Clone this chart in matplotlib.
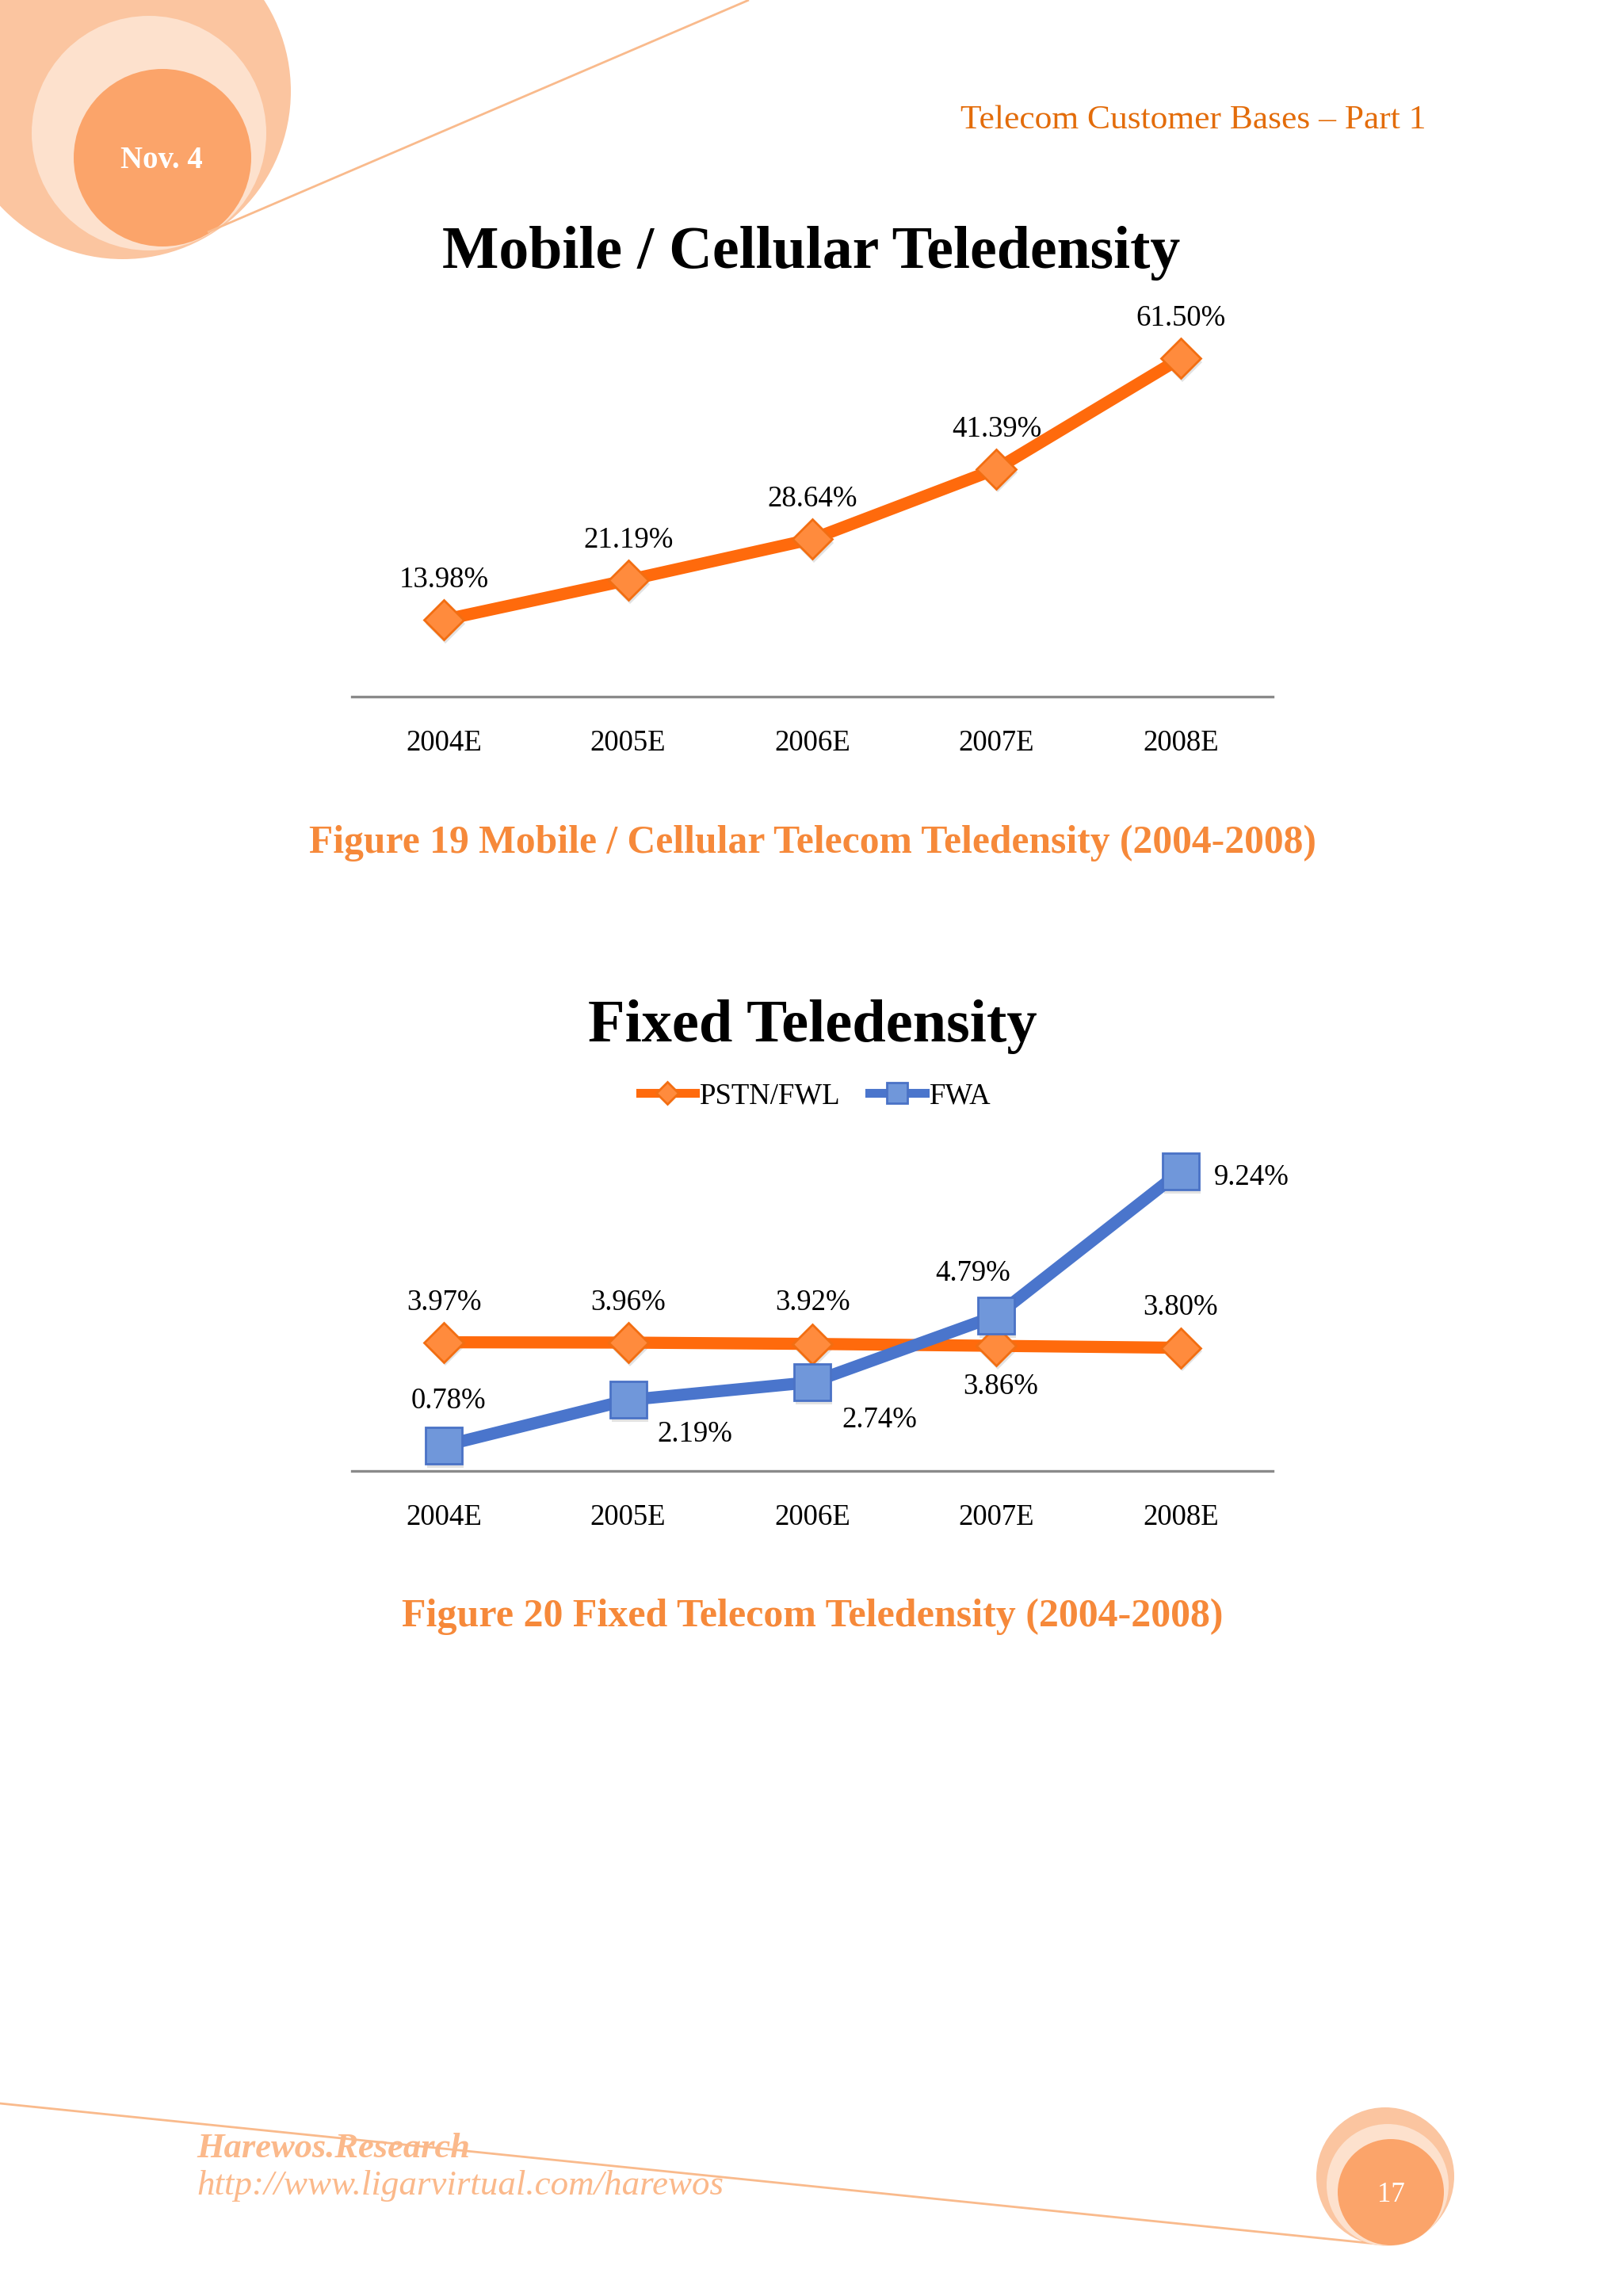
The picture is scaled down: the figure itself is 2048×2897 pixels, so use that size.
import matplotlib
matplotlib.use('Agg')
import matplotlib.pyplot as plt
from matplotlib.patches import Circle
import matplotlib.transforms as mtransforms

# ---------------- data ----------------
years = ['2004E', '2005E', '2006E', '2007E', '2008E']
mobile = [13.98, 21.19, 28.64, 41.39, 61.50]
pstn = [3.97, 3.96, 3.92, 3.86, 3.80]
fwa = [0.78, 2.19, 2.74, 4.79, 9.24]
series_names = ['PSTN/FWL', 'FWA']

# ---------------- style ----------------
W, H, DPI = 2048, 2897, 100
SERIF = ['Liberation Serif', 'DejaVu Serif']
OR_LINE = '#FF6A0C'
OR_FACE = '#FF8B3D'
OR_EDGE = '#F26E12'
BL_LINE = '#4A75CC'
BL_FACE = '#7097DA'
BL_EDGE = '#4A72C6'
AXIS_GRAY = '#8A8A8A'
PX = 72.0 / DPI  # points per pixel
LW = 11
MS_D = 25
MS_S = 33

# label offsets in pixels (dx right, dy down)
mobile_off = [(0, -54)] * 5
pstn_off = [(0, -54), (0, -54), (0, -56), (5, 48), (0, -55)]
fwa_off = [(6, -60), (84, 39), (85, 44), (-30, -57), (90, 4)]

fig = plt.figure(figsize=(W / DPI, H / DPI), dpi=DPI)
fig.patch.set_facecolor('white')

# ---------------- page decoration (pixel coordinates) ----------------
bg = fig.add_axes([0, 0, 1, 1])
bg.set_xlim(0, W)
bg.set_ylim(H, 0)
bg.axis('off')
bg.set_zorder(-5)

bg.add_patch(Circle((155, 115), 212, color='#FBC5A0', lw=0, zorder=1))
bg.add_patch(Circle((188, 168), 148, color='#FDE1CD', lw=0, zorder=2))
bg.add_patch(Circle((205, 199), 112, color='#FBA46A', lw=0, zorder=3))
bg.plot([262, 945], [293, 0], color='#F9BA8C', lw=2.0, zorder=4, solid_capstyle='butt')
bg.text(204, 203, 'Nov. 4', color='white', fontsize=28, fontweight='bold',
        family=SERIF, ha='center', va='center', zorder=5)

bg.text(1212, 152, 'Telecom Customer Bases \u2013 Part 1', color='#E36C0A',
        fontsize=31.3, family=SERIF, ha='left', va='center')

bg.plot([0, 1745], [2654, 2832], color='#F9BA8C', lw=2.0, zorder=1)
bg.add_patch(Circle((1748, 2746), 87, color='#FBC5A0', lw=0, zorder=2))
bg.add_patch(Circle((1751, 2757), 77, color='#FDE1CD', lw=0, zorder=3))
bg.add_patch(Circle((1755, 2766), 67, color='#FBA46A', lw=0, zorder=4))
bg.text(1755, 2770, '17', color='white', fontsize=25, family=SERIF,
        ha='center', va='center', zorder=5)
bg.text(248, 2711, 'Harewos.Research', color='#FBB98B', fontsize=32,
        fontweight='bold', fontstyle='italic', family=SERIF, ha='left', va='center', zorder=6)
bg.text(248, 2758, 'http://www.ligarvirtual.com/harewos', color='#FBB98B', fontsize=32.4,
        fontstyle='italic', family=SERIF, ha='left', va='center', zorder=6)

# titles and captions
bg.text(1024, 320, 'Mobile / Cellular Teledensity', fontsize=54.5, fontweight='bold',
        family=SERIF, ha='center', va='center', color='black')
bg.text(1025, 1064, 'Figure 19 Mobile / Cellular Telecom Teledensity (2004-2008)',
        fontsize=35.7, fontweight='bold', family=SERIF, ha='center', va='center', color='#F6893A')
bg.text(1025, 1295, 'Fixed Teledensity', fontsize=55, fontweight='bold',
        family=SERIF, ha='center', va='center', color='black')
bg.text(1025, 2040, 'Figure 20 Fixed Telecom Teledensity (2004-2008)',
        fontsize=36, fontweight='bold', family=SERIF, ha='center', va='center', color='#F6893A')


def make_axes(left_px, right_px, top_px, bottom_px):
    ax = fig.add_axes([left_px / W, 1 - bottom_px / H,
                       (right_px - left_px) / W, (bottom_px - top_px) / H])
    ax.set_facecolor('none')
    for s in ['top', 'left', 'right']:
        ax.spines[s].set_visible(False)
    ax.spines['bottom'].set_color(AXIS_GRAY)
    ax.spines['bottom'].set_linewidth(2.4)
    ax.set_yticks([])
    ax.set_xlim(-0.5, len(years) - 0.5)
    ax.set_xticks(range(len(years)))
    ax.set_xticklabels(years, family=SERIF, fontsize=26.5)
    ax.tick_params(axis='x', length=0, pad=30)
    return ax


def shadow(ax, x, y, marker, ms):
    tr = ax.transData + mtransforms.ScaledTranslation(1.5 / 72, -3.5 / 72, fig.dpi_scale_trans)
    ax.plot(x, y, ls='none', marker=marker, ms=ms, color='#9A9A9A', alpha=0.28,
            mew=0, transform=tr, zorder=2, clip_on=False)


def labels(ax, x, y, offs):
    for xi, yi, (dx, dy) in zip(x, y, offs):
        ax.annotate(f'{yi:.2f}%', (xi, yi), xytext=(dx * PX, -(dy + 4) * PX),
                    textcoords='offset points', ha='center', va='center',
                    family=SERIF, fontsize=26.5, color='black', zorder=10,
                    annotation_clip=False)


x = list(range(len(years)))

# ---------------- chart 1 ----------------
ax1 = make_axes(444, 1606, 393, 879)
ax1.set_ylim(0, 70)
shadow(ax1, x, mobile, 'D', MS_D)
ax1.plot(x, mobile, color=OR_LINE, lw=LW, marker='D', ms=MS_D, mfc=OR_FACE,
         mec=OR_EDGE, mew=2, zorder=3, clip_on=False)
labels(ax1, x, mobile, mobile_off)

# ---------------- chart 2 ----------------
ax2 = make_axes(444, 1606, 1447, 1856)
ax2.set_ylim(0, 10)
shadow(ax2, x, pstn, 'D', MS_D)
shadow(ax2, x, fwa, 's', MS_S)
ax2.plot(x, pstn, color=OR_LINE, lw=LW, marker='D', ms=MS_D, mfc=OR_FACE,
         mec=OR_EDGE, mew=2, zorder=3, clip_on=False, label=series_names[0])
ax2.plot(x, fwa, color=BL_LINE, lw=LW, marker='s', ms=MS_S, mfc=BL_FACE,
         mec=BL_EDGE, mew=2, zorder=4, clip_on=False, label=series_names[1])
labels(ax2, x, pstn, pstn_off)
labels(ax2, x, fwa, fwa_off)

leg = ax2.legend(loc='center', bbox_to_anchor=(1029 / W, 1 - 1383 / H),
                 bbox_transform=fig.transFigure, ncol=2, frameon=False,
                 prop={'family': SERIF, 'size': 26.5}, markerscale=0.55,
                 handlelength=1.9, handletextpad=0.15, columnspacing=1.0)
for h in leg.legend_handles:
    h.set_linewidth(8)

fig.savefig('out.png', dpi=DPI, facecolor='white')
